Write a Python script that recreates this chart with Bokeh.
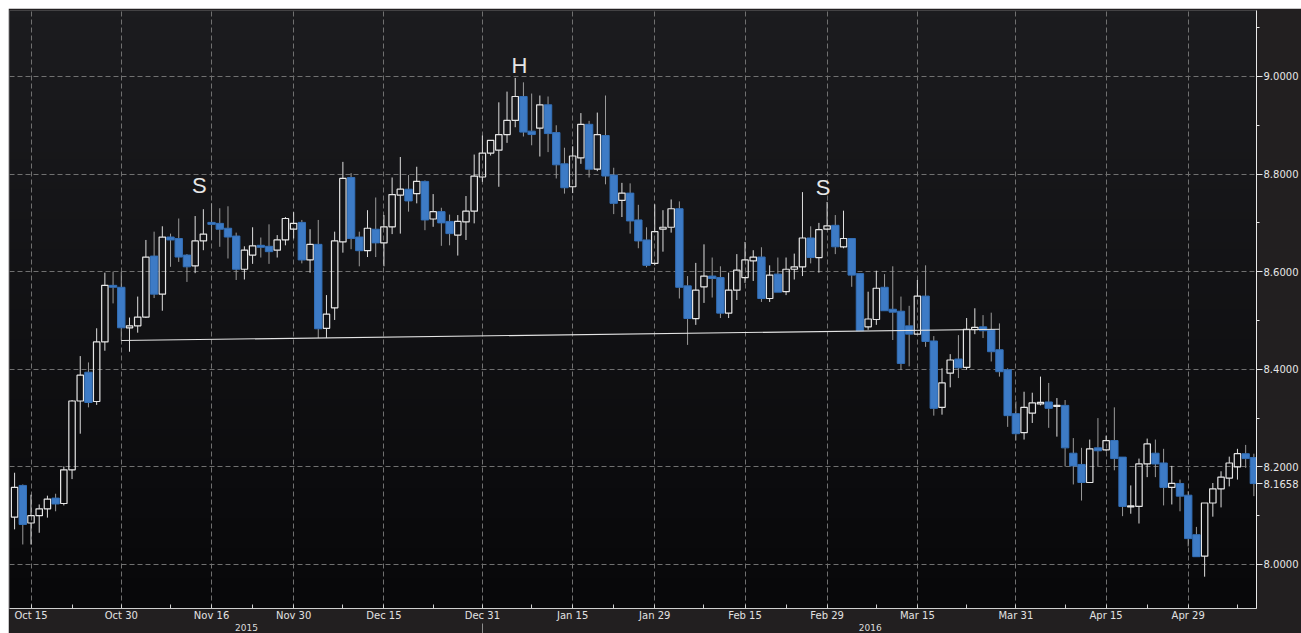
import numpy as np
import pandas as pd
from bokeh.plotting import figure
from bokeh.models import (Range1d, FixedTicker, PrintfTickFormatter,
                          ColumnDataSource, LinearAxis)
from bokeh.core.properties import value
from bokeh.embed import file_html
from bokeh.resources import INLINE

# ---------------- data ----------------
start_date = "2015-10-13"
end_date = "2016-05-11"

opens = [8.097, 8.162, 8.085, 8.100, 8.114, 8.136, 8.125, 8.194, 8.335, 8.394,
         8.334, 8.456, 8.572, 8.568, 8.485, 8.489, 8.507, 8.632, 8.554, 8.671,
         8.668, 8.634, 8.612, 8.663, 8.701, 8.699, 8.689, 8.673, 8.605, 8.634,
         8.654, 8.652, 8.644, 8.665, 8.687, 8.701, 8.624, 8.656, 8.484, 8.526,
         8.661, 8.793, 8.671, 8.643, 8.687, 8.659, 8.692, 8.757, 8.769, 8.760,
         8.785, 8.708, 8.723, 8.703, 8.675, 8.702, 8.724, 8.794, 8.843, 8.849,
         8.881, 8.910, 8.959, 8.888, 8.894, 8.942, 8.885, 8.821, 8.774, 8.833,
         8.902, 8.810, 8.879, 8.798, 8.746, 8.761, 8.706, 8.665, 8.617, 8.687,
         8.691, 8.729, 8.571, 8.504, 8.569, 8.591, 8.588, 8.515, 8.562, 8.588,
         8.622, 8.630, 8.545, 8.595, 8.559, 8.605, 8.610, 8.669, 8.629, 8.687,
         8.695, 8.651, 8.668, 8.596, 8.487, 8.502, 8.568, 8.523, 8.519, 8.489,
         8.472, 8.550, 8.458, 8.322, 8.392, 8.421, 8.404, 8.481, 8.487, 8.481,
         8.440, 8.399, 8.309, 8.270, 8.310, 8.329, 8.333, 8.324, 8.326, 8.228,
         8.205, 8.168, 8.239, 8.235, 8.254, 8.220, 8.118, 8.119, 8.206, 8.228,
         8.208, 8.158, 8.166, 8.142, 8.061, 8.017, 8.126, 8.155, 8.177, 8.200,
         8.227, 8.219]
highs = [8.188, 8.164, 8.143, 8.123, 8.141, 8.145, 8.201, 8.337, 8.427, 8.414,
         8.484, 8.598, 8.600, 8.600, 8.506, 8.549, 8.665, 8.682, 8.693, 8.678,
         8.709, 8.636, 8.714, 8.728, 8.740, 8.730, 8.734, 8.680, 8.652, 8.691,
         8.670, 8.697, 8.675, 8.712, 8.722, 8.706, 8.687, 8.706, 8.552, 8.682,
         8.825, 8.802, 8.682, 8.726, 8.752, 8.716, 8.793, 8.835, 8.798, 8.815,
         8.787, 8.759, 8.731, 8.717, 8.716, 8.755, 8.840, 8.879, 8.869, 8.947,
         8.969, 8.997, 8.988, 8.965, 8.961, 8.959, 8.900, 8.854, 8.857, 8.925,
         8.909, 8.926, 8.961, 8.813, 8.782, 8.781, 8.737, 8.691, 8.738, 8.726,
         8.748, 8.744, 8.591, 8.618, 8.656, 8.629, 8.611, 8.598, 8.636, 8.661,
         8.644, 8.650, 8.613, 8.629, 8.629, 8.637, 8.763, 8.693, 8.700, 8.743,
         8.716, 8.725, 8.668, 8.597, 8.559, 8.602, 8.595, 8.611, 8.549, 8.530,
         8.583, 8.613, 8.468, 8.402, 8.431, 8.470, 8.505, 8.525, 8.511, 8.516,
         8.494, 8.402, 8.334, 8.354, 8.352, 8.385, 8.372, 8.341, 8.337, 8.259,
         8.239, 8.256, 8.300, 8.264, 8.322, 8.220, 8.162, 8.217, 8.258, 8.256,
         8.237, 8.202, 8.174, 8.150, 8.077, 8.126, 8.167, 8.191, 8.221, 8.237,
         8.245, 8.227]
lows = [8.072, 8.041, 8.041, 8.065, 8.096, 8.109, 8.121, 8.175, 8.268, 8.322,
        8.327, 8.438, 8.535, 8.459, 8.436, 8.475, 8.505, 8.546, 8.520, 8.610,
        8.620, 8.579, 8.597, 8.644, 8.665, 8.651, 8.627, 8.583, 8.584, 8.616,
        8.629, 8.616, 8.629, 8.654, 8.668, 8.617, 8.598, 8.464, 8.464, 8.501,
        8.639, 8.646, 8.611, 8.630, 8.630, 8.611, 8.677, 8.678, 8.723, 8.740,
        8.685, 8.692, 8.653, 8.654, 8.633, 8.665, 8.699, 8.784, 8.838, 8.774,
        8.864, 8.896, 8.877, 8.859, 8.836, 8.845, 8.791, 8.760, 8.761, 8.821,
        8.793, 8.806, 8.779, 8.718, 8.712, 8.678, 8.648, 8.609, 8.613, 8.641,
        8.680, 8.545, 8.450, 8.491, 8.536, 8.547, 8.505, 8.505, 8.542, 8.577,
        8.581, 8.538, 8.538, 8.558, 8.552, 8.584, 8.591, 8.617, 8.598, 8.685,
        8.636, 8.648, 8.569, 8.479, 8.481, 8.491, 8.520, 8.460, 8.399, 8.406,
        8.472, 8.446, 8.305, 8.307, 8.363, 8.382, 8.399, 8.472, 8.464, 8.416,
        8.385, 8.282, 8.254, 8.256, 8.290, 8.326, 8.280, 8.262, 8.201, 8.164,
        8.131, 8.168, 8.201, 8.232, 8.193, 8.099, 8.104, 8.084, 8.179, 8.179,
        8.121, 8.123, 8.109, 8.037, 8.016, 7.975, 8.098, 8.117, 8.160, 8.174,
        8.198, 8.140]
closes = [8.158, 8.082, 8.100, 8.114, 8.134, 8.124, 8.194, 8.335, 8.388, 8.332,
          8.456, 8.572, 8.568, 8.485, 8.489, 8.507, 8.630, 8.554, 8.671, 8.665,
          8.630, 8.610, 8.663, 8.677, 8.697, 8.687, 8.671, 8.605, 8.644, 8.653,
          8.650, 8.641, 8.665, 8.709, 8.699, 8.624, 8.656, 8.483, 8.513, 8.663,
          8.791, 8.668, 8.643, 8.689, 8.659, 8.692, 8.758, 8.769, 8.745, 8.785,
          8.706, 8.723, 8.700, 8.678, 8.703, 8.724, 8.796, 8.843, 8.869, 8.881,
          8.910, 8.959, 8.886, 8.881, 8.942, 8.883, 8.819, 8.772, 8.837, 8.902,
          8.810, 8.881, 8.796, 8.740, 8.761, 8.704, 8.663, 8.613, 8.682, 8.691,
          8.729, 8.568, 8.504, 8.562, 8.591, 8.586, 8.515, 8.562, 8.603, 8.624,
          8.630, 8.545, 8.593, 8.558, 8.605, 8.610, 8.669, 8.629, 8.686, 8.694,
          8.651, 8.668, 8.593, 8.479, 8.503, 8.566, 8.520, 8.517, 8.412, 8.472,
          8.550, 8.457, 8.320, 8.372, 8.419, 8.403, 8.482, 8.486, 8.479, 8.436,
          8.395, 8.305, 8.268, 8.322, 8.331, 8.332, 8.320, 8.326, 8.239, 8.202,
          8.168, 8.237, 8.233, 8.254, 8.217, 8.119, 8.120, 8.206, 8.247, 8.206,
          8.158, 8.166, 8.140, 8.053, 8.016, 8.126, 8.155, 8.179, 8.208, 8.227,
          8.217, 8.1658]

last_price = 8.1658

major_tick_dates = ["2015-10-15", "2015-10-30", "2015-11-16", "2015-11-30",
                    "2015-12-15", "2015-12-31", "2016-01-15", "2016-01-29",
                    "2016-02-15", "2016-02-29", "2016-03-15", "2016-03-31",
                    "2016-04-15", "2016-04-29"]
major_tick_labels = ["Oct 15", "Oct 30", "Nov 16", "Nov 30", "Dec 15", "Dec 31",
                     "Jan 15", "Jan 29", "Feb 15", "Feb 29", "Mar 15", "Mar 31",
                     "Apr 15", "Apr 29"]
minor_tick_dates = ["2015-10-22", "2015-11-09", "2015-11-23", "2015-12-08",
                    "2015-12-23", "2016-01-08", "2016-01-22", "2016-02-08",
                    "2016-02-22", "2016-03-08", "2016-03-23", "2016-04-08",
                    "2016-04-22", "2016-05-09"]
year_labels = ["2015", "2016"]
year_boundary = "2015-12-31"

y_major_ticks = [8.0, 8.2, 8.4, 8.6, 8.8, 9.0]
y_minor_ticks = [7.9, 8.1, 8.3, 8.5, 8.7, 8.9, 9.1]

neck_dates = ["2015-10-30", "2016-03-29"]
neck_values = [8.459, 8.482]

pattern_texts = ["S", "H", "S"]
pattern_dates = ["2015-11-12", "2016-01-06", "2016-02-26"]
pattern_values = [8.777, 9.0225, 8.7725]

# ---------------- positions ----------------
dates = pd.bdate_range(start_date, end_date)
pos = {d.strftime("%Y-%m-%d"): i for i, d in enumerate(dates)}
n = len(dates)
xs = np.arange(n)

o = np.array(opens); h = np.array(highs); l = np.array(lows); c = np.array(closes)
body_top = np.maximum(o, c)
body_bot = np.minimum(o, c)
up = c >= o
dn = ~up

X0, X1 = -0.62, 151.32
Y0, Y1 = 7.9098, 9.1352

p = figure(width=1293, height=625, output_backend="svg", toolbar_location=None,
           x_range=Range1d(X0, X1), y_range=Range1d(Y0, Y1),
           y_axis_location="right",
           min_border_left=1, min_border_top=2, min_border_right=45,
           min_border_bottom=25)
p.margin = (8, 0, 0, 8)
p.background_fill_color = "#121215"
p.border_fill_color = "#221f20"
p.outline_line_color = None

# background gradient (top lighter, bottom darker), below the grid
rows = 80
grad = np.zeros((rows, 1), dtype=np.uint32)
view = grad.view(dtype=np.uint8).reshape((rows, 1, 4))
top_col = np.array([28, 28, 31]); bot_col = np.array([8, 8, 10])
for r in range(rows):
    t = r / (rows - 1)
    col = bot_col + (top_col - bot_col) * t
    view[r, 0, 0:3] = col.astype(np.uint8)
    view[r, 0, 3] = 255
p.image_rgba(image=[grad], x=X0, y=Y0, dw=X1 - X0, dh=Y1 - Y0, level="image")

# x axis (dates)
major_pos = [pos[d] for d in major_tick_dates]
minor_pos = [pos[d] for d in minor_tick_dates]
xa = p.xaxis[0]
xa.ticker = FixedTicker(ticks=major_pos, minor_ticks=minor_pos)
xa.major_label_overrides = {k: v for k, v in zip(major_pos, major_tick_labels)}
xa.axis_line_color = "#cfcfcf"
xa.major_tick_line_color = "#cfcfcf"
xa.minor_tick_line_color = "#cfcfcf"
xa.major_tick_in = 4
xa.major_tick_out = 0
xa.minor_tick_in = 4
xa.minor_tick_out = 0
xa.major_label_text_color = "#e2e2e2"
xa.major_label_text_font = "DejaVu Sans"
xa.major_label_text_font_size = "10px"
xa.major_label_standoff = 1

# year axis below the dates (minor tick = year separator)
boundary = pos[year_boundary]
year_pos = [28.25, 104.25]
ya2 = LinearAxis(ticker=FixedTicker(ticks=year_pos, minor_ticks=[boundary]))
ya2.major_label_overrides = {k: v for k, v in zip(year_pos, year_labels)}
ya2.axis_line_color = None
ya2.major_tick_line_color = None
ya2.major_tick_in = 0
ya2.major_tick_out = 0
ya2.minor_tick_line_color = "#8c8c8c"
ya2.minor_tick_in = 0
ya2.minor_tick_out = 12
ya2.major_label_standoff = -12
ya2.major_label_text_color = "#dcdcdc"
ya2.major_label_text_font = "DejaVu Sans"
ya2.major_label_text_font_size = "9px"
p.add_layout(ya2, "below")

# grids
p.xgrid.ticker = FixedTicker(ticks=major_pos)
p.ygrid.ticker = FixedTicker(ticks=y_major_ticks)
for g in (p.xgrid, p.ygrid):
    g.grid_line_color = "#707070"
    g.grid_line_dash = "5 3"
    g.grid_line_width = 1
    g.level = "underlay"

# y axis (right)
ya = p.yaxis[0]
ya.ticker = FixedTicker(ticks=y_major_ticks + [last_price], minor_ticks=y_minor_ticks)
ya.formatter = PrintfTickFormatter(format="%.4f")
ya.axis_line_color = "#e8e8e8"
ya.major_tick_line_color = "#e8e8e8"
ya.minor_tick_line_color = "#e8e8e8"
ya.major_tick_in = 0
ya.major_tick_out = 6
ya.minor_tick_in = 0
ya.minor_tick_out = 3
ya.major_label_text_color = "#e6e6e6"
ya.major_label_text_font = "DejaVu Sans"
ya.major_label_text_font_size = "10px"
ya.major_label_standoff = 1

# wicks
src_up = ColumnDataSource(dict(x=xs[up], hi=h[up], lo=l[up], top=body_top[up], bot=body_bot[up]))
src_dn = ColumnDataSource(dict(x=xs[dn], hi=h[dn], lo=l[dn], top=body_top[dn], bot=body_bot[dn]))
for src, col in ((src_up, "#dedede"), (src_dn, "#9a9a9a")):
    p.segment(x0="x", y0="hi", x1="x", y1="top", source=src, line_color=col, line_width=1)
    p.segment(x0="x", y0="bot", x1="x", y1="lo", source=src, line_color=col, line_width=1)

# bodies
p.vbar(x="x", width=0.78, top="top", bottom="bot", source=src_up,
       fill_alpha=0, line_color="#e6e6e6", line_width=1.2)
p.vbar(x="x", width=0.9, top="top", bottom="bot", source=src_dn,
       fill_color="#3d7bc6", line_color="#3470b8", line_width=1)

# neckline
p.line(x=[pos[d] for d in neck_dates], y=neck_values, line_color="#e4e4e4", line_width=1.2)

# pattern labels
p.text(x=[pos[d] + 0.5 for d in pattern_dates], y=pattern_values, text=pattern_texts,
       text_align="center", text_baseline="middle", text_color="#e6e6e6",
       text_font=value("Liberation Sans"), text_font_size="22px")

open("out.html", "w").write(file_html(p, INLINE))
